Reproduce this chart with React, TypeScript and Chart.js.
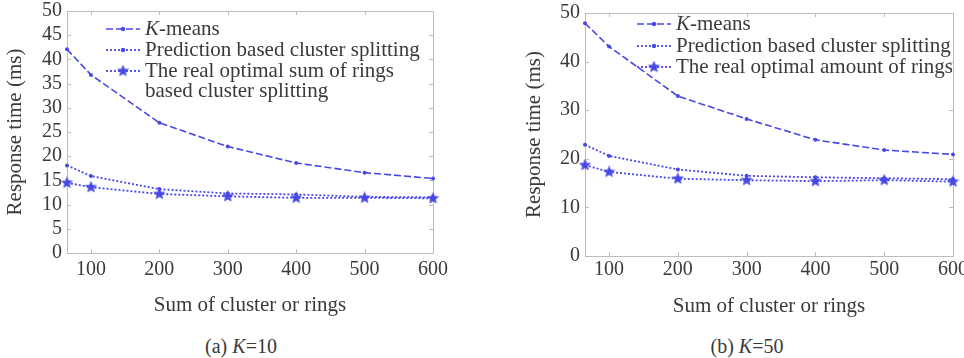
import React, { useEffect, useRef } from "react";
import { Chart, registerables } from "chart.js";
Chart.register(...registerables);

// ---------- data ----------
const xValues = [65, 100, 200, 300, 400, 500, 600];
const xTickValues = [100, 200, 300, 400, 500, 600];

const kmeansK10 = [42.1, 36.8, 26.9, 22.0, 18.6, 16.6, 15.4];
const predictionK10 = [18.1, 15.9, 13.2, 12.3, 12.1, 11.6, 11.5];
const realOptimalK10 = [14.5, 13.6, 12.2, 11.7, 11.4, 11.4, 11.3];

const kmeansK50 = [47.9, 43.1, 32.9, 28.2, 23.9, 21.8, 20.9];
const predictionK50 = [22.9, 20.6, 17.8, 16.5, 16.2, 16.0, 15.8];
const realOptimalK50 = [18.7, 17.3, 15.9, 15.6, 15.4, 15.6, 15.3];

const seriesNames = ["K-means", "Prediction based cluster splitting"];
const realNameK10 = ["The real optimal sum of rings", "based cluster splitting"];
const realNameK50 = ["The real optimal amount of rings"];

const yTitle = "Response time (ms)";
const xTitle = "Sum of cluster or rings";

// ---------- styles ----------
const FONT = "'Liberation Serif', 'Times New Roman', serif";
const BLUE = "#4848e6";
const TEXT = "#3a3a3a";
const FRAME = "#bdbdbd";

function makeStar(size: number, color: string) {
  const c = document.createElement("canvas");
  c.width = size;
  c.height = size;
  const ctx = c.getContext("2d")!;
  const cx = size / 2, cy = size / 2, R = size / 2, r = R * 0.45;
  ctx.beginPath();
  for (let i = 0; i < 10; i++) {
    const a = -Math.PI / 2 + (i * Math.PI) / 5;
    const rad = i % 2 === 0 ? R : r;
    const x = cx + rad * Math.cos(a), y = cy + rad * Math.sin(a);
    if (i === 0) ctx.moveTo(x, y); else ctx.lineTo(x, y);
  }
  ctx.closePath();
  ctx.fillStyle = color;
  ctx.fill();
  return c;
}

type Cfg = {
  width: number;
  height: number;
  kmeans: number[];
  prediction: number[];
  real: number[];
  realName: string[];
  yStep: number;
  yWidth: number;
  xHeight: number;
  pad: { left: number; top: number; right: number; bottom: number };
  yTitlePad: number;
  xTitlePad: number;
  xTickPad: number;
  legendX: number;
  legendRows: number[];
};

const framePlugin = {
  id: "frame",
  beforeDatasetsDraw(chart: any) {
    const { ctx, chartArea } = chart;
    const { left, right, top, bottom } = chartArea;
    const xs = chart.scales.x, ys = chart.scales.y;
    ctx.save();
    ctx.strokeStyle = FRAME;
    ctx.lineWidth = 1;
    ctx.strokeRect(Math.round(left) + 0.5, Math.round(top) + 0.5, Math.round(right - left), Math.round(bottom - top));
    const tl = 4;
    ctx.beginPath();
    xs.ticks.forEach((t: any) => {
      const px = Math.round(xs.getPixelForValue(t.value)) + 0.5;
      ctx.moveTo(px, bottom); ctx.lineTo(px, bottom - tl);
      ctx.moveTo(px, top); ctx.lineTo(px, top + tl);
    });
    ys.ticks.forEach((t: any) => {
      const py = Math.round(ys.getPixelForValue(t.value)) + 0.5;
      ctx.moveTo(left, py); ctx.lineTo(left + tl, py);
      ctx.moveTo(right, py); ctx.lineTo(right - tl, py);
    });
    ctx.stroke();
    ctx.restore();
  },
};

function makeLegendPlugin(cfg: Cfg, star: HTMLCanvasElement) {
  return {
    id: "sketchLegend",
    afterDraw(chart: any) {
      const ctx = chart.ctx;
      const x0 = cfg.legendX;
      const sampleW = 34;
      const tx = x0 + sampleW + 5;
      const rows = cfg.legendRows;
      ctx.save();
      ctx.textBaseline = "middle";
      ctx.fillStyle = TEXT;
      const drawSample = (y: number, dash: number[], marker: "dot" | "star") => {
        ctx.save();
        ctx.strokeStyle = BLUE;
        ctx.lineWidth = dash[0] > 3 ? 1.6 : 1.8;
        ctx.setLineDash(dash);
        ctx.beginPath();
        ctx.moveTo(x0, y);
        ctx.lineTo(x0 + sampleW, y);
        ctx.stroke();
        ctx.setLineDash([]);
        const mx = x0 + sampleW / 2;
        if (marker === "dot") {
          ctx.fillStyle = BLUE;
          ctx.beginPath();
          ctx.arc(mx, y, 2.2, 0, Math.PI * 2);
          ctx.fill();
        } else {
          ctx.drawImage(star, mx - star.width / 2, y - star.height / 2);
        }
        ctx.restore();
      };
      // K-means
      drawSample(rows[0], [7, 3], "dot");
      ctx.font = `italic 21px ${FONT}`;
      ctx.fillText("K", tx, rows[0]);
      const kw = ctx.measureText("K").width;
      ctx.font = `21px ${FONT}`;
      ctx.fillText(seriesNames[0].slice(1), tx + kw, rows[0]);
      // Prediction
      drawSample(rows[1], [2, 2], "dot");
      ctx.fillText(seriesNames[1], tx, rows[1]);
      // Real optimal
      drawSample(rows[2], [2, 2], "star");
      cfg.realName.forEach((line, i) => {
        ctx.fillText(line, tx, rows[2 + i]);
      });
      ctx.restore();
    },
  };
}

function LineChart({ cfg }: { cfg: Cfg }) {
  const ref = useRef<HTMLCanvasElement>(null);
  useEffect(() => {
    const star = makeStar(13, BLUE);
    const toPts = (arr: number[]) => arr.map((v, i) => ({ x: xValues[i], y: v }));
    const chart = new Chart(ref.current!, {
      type: "line",
      data: {
        datasets: [
          {
            label: seriesNames[0],
            data: toPts(cfg.kmeans),
            borderColor: BLUE,
            backgroundColor: BLUE,
            borderWidth: 1.6,
            borderDash: [7, 3],
            pointRadius: 2,
            pointStyle: "circle",
            pointBorderWidth: 0,
            tension: 0,
            clip: 12,
          },
          {
            label: seriesNames[1],
            data: toPts(cfg.prediction),
            borderColor: BLUE,
            backgroundColor: BLUE,
            borderWidth: 1.8,
            borderDash: [2, 2],
            pointRadius: 2,
            pointStyle: "circle",
            pointBorderWidth: 0,
            tension: 0,
            clip: 12,
          },
          {
            label: cfg.realName.join(" "),
            data: toPts(cfg.real),
            borderColor: BLUE,
            backgroundColor: BLUE,
            borderWidth: 1.8,
            borderDash: [2, 2],
            pointRadius: 6,
            pointStyle: star as any,
            tension: 0,
            clip: 12,
          },
        ],
      },
      options: {
        responsive: false,
        animation: false,
        layout: { padding: cfg.pad },
        plugins: {
          legend: { display: false },
          tooltip: { enabled: false },
          title: { display: false },
        },
        scales: {
          x: {
            type: "linear",
            min: xValues[0],
            max: 600,
            grid: { display: false, drawTicks: false },
            border: { display: false },
            ticks: {
              color: TEXT,
              font: { family: FONT, size: 20, lineHeight: 1 },
              padding: cfg.xTickPad,
              maxRotation: 0,
            },
            title: {
              display: true,
              text: xTitle,
              color: TEXT,
              font: { family: FONT, size: 21, lineHeight: 1.2 },
              padding: { top: 0, bottom: cfg.xTitlePad },
            },
            afterBuildTicks: (s: any) => {
              s.ticks = xTickValues.map((v) => ({ value: v }));
            },
            afterFit: (s: any) => {
              s.height = cfg.xHeight;
              s.paddingLeft = 0;
              s.paddingRight = 0;
            },
          },
          y: {
            type: "linear",
            min: 0,
            max: 50,
            grid: { display: false, drawTicks: false },
            border: { display: false },
            ticks: {
              stepSize: cfg.yStep,
              color: TEXT,
              font: { family: FONT, size: 20, lineHeight: 1 },
              padding: 5,
            },
            title: {
              display: true,
              text: yTitle,
              color: TEXT,
              font: { family: FONT, size: 21, lineHeight: 1.2 },
              padding: { top: cfg.yTitlePad, bottom: 0 },
            },
            afterFit: (s: any) => {
              s.width = cfg.yWidth;
              s.paddingTop = 0;
              s.paddingBottom = 0;
            },
          },
        },
      },
      plugins: [framePlugin, makeLegendPlugin(cfg, star)],
    } as any);
    return () => chart.destroy();
  }, [cfg]);
  return <canvas ref={ref} width={cfg.width} height={cfg.height} style={{ display: "block" }} />;
}

const cfgK10: Cfg = {
  width: 480,
  height: 320,
  kmeans: kmeansK10,
  prediction: predictionK10,
  real: realOptimalK10,
  realName: realNameK10,
  yStep: 5,
  yWidth: 67,
  xHeight: 67,
  pad: { left: 0, top: 11, right: 47, bottom: 0 },
  yTitlePad: 3,
  xTitlePad: 2,
  xTickPad: 7,
  legendX: 106,
  legendRows: [29, 50, 71, 91],
};

const cfgK50: Cfg = {
  width: 444,
  height: 320,
  kmeans: kmeansK50,
  prediction: predictionK50,
  real: realOptimalK50,
  realName: realNameK50,
  yStep: 10,
  yWidth: 65,
  xHeight: 64,
  pad: { left: 0, top: 13, right: 11, bottom: 0 },
  yTitlePad: 2,
  xTitlePad: 1,
  xTickPad: 4,
  legendX: 117,
  legendRows: [24, 46, 67],
};

export default function App() {
  const caption: React.CSSProperties = {
    position: "absolute",
    top: 334,
    width: 200,
    textAlign: "center",
    fontFamily: FONT,
    fontSize: 20,
    lineHeight: "24px",
    color: TEXT,
  };
  return (
    <div style={{ position: "absolute", left: 0, top: 0, width: 964, height: 358, background: "#fff", overflow: "hidden" }}>
      <div style={{ position: "absolute", left: 0, top: 0 }}>
        <LineChart cfg={cfgK10} />
      </div>
      <div style={{ position: "absolute", left: 520, top: 0 }}>
        <LineChart cfg={cfgK50} />
      </div>
      <div style={{ ...caption, left: 141 }}>
        (a) <i>K</i>=10
      </div>
      <div style={{ ...caption, left: 647 }}>
        (b) <i>K</i>=50
      </div>
    </div>
  );
}
